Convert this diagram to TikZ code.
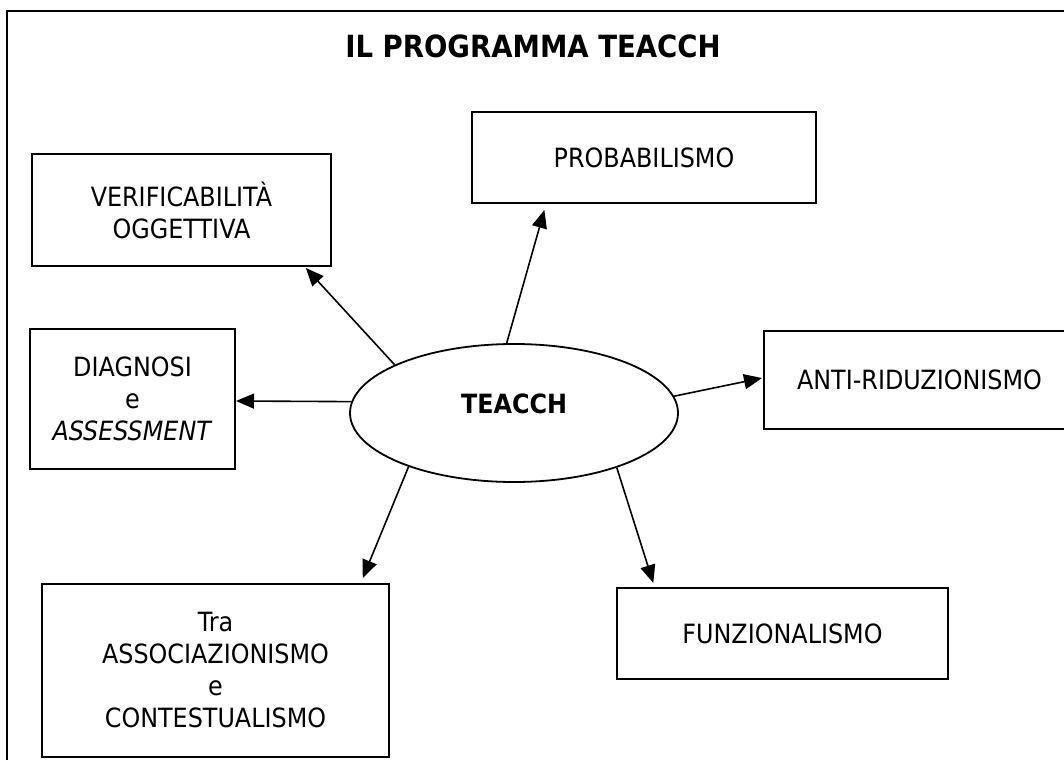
\documentclass[tikz,border=0pt]{standalone}
\usepackage{fontspec}
\setmainfont[FakeStretch=0.9]{DejaVu Sans}
\usetikzlibrary{arrows.meta,calc,shapes.geometric}
\begin{document}
\begin{tikzpicture}[x=1pt,y=-1pt,
  box/.style={draw,line width=2pt,rectangle,inner sep=0pt,align=center,font=\fontsize{26.5}{32}\selectfont},
  hub/.style={draw,line width=1.8pt,ellipse,inner sep=0pt,font=\bfseries\fontsize{26.5}{32}\selectfont},
  link/.style={line width=1.6pt,-{Triangle[length=18pt,width=15pt]}},
  frameline/.style={line width=2.2pt}]
\useasboundingbox (0,0) rectangle (1064,760);
\draw[frameline] (7,760) -- (7,11) -- (1064,11);
\node[anchor=base,font=\bfseries\fontsize{30.6}{36}\selectfont] (title) at (533,57) {IL PROGRAMMA TEACCH};
\node[box,minimum width=299pt,minimum height=112pt] (verif) at (181.5,210) {VERIFICABILITÀ\\OGGETTIVA};
\node[box,minimum width=344pt,minimum height=91pt] (prob) at (644,157.5) {PROBABILISMO};
\node[box,minimum width=205pt,minimum height=140pt] (diag) at (132.5,399) {DIAGNOSI\\e\\\textit{ASSESSMENT}};
\node[box,minimum width=311pt,minimum height=98pt] (anti) at (919.5,380) {ANTI-RIDUZIONISMO};
\node[box,minimum width=347pt,minimum height=173pt] (tra) at (215.5,670.5) {Tra\\ASSOCIAZIONISMO\\e\\CONTESTUALISMO};
\node[box,minimum width=331pt,minimum height=91pt] (funz) at (782.5,633.5) {FUNZIONALISMO};
\node[hub,minimum width=328pt,minimum height=138pt,text depth=18pt] (T) at (514,413) {TEACCH};
\draw[link] (T.158) -- ($(verif.south west)!0.913!(verif.south east)+(0,1)$);
\draw[link] (T.96) -- ($(prob.south west)!0.212!(prob.south east)+(0,6)$);
\draw[link] (T.176) -- ($(diag.east)+(0,2)$);
\draw[link] (T.6) -- ($(anti.west)+(-1,-2)$);
\draw[link] (T.207) -- ($(tra.north west)!0.922!(tra.north east)+(0,-5)$);
\draw[link] (T.332) -- ($(funz.north west)!0.112!(funz.north east)+(0,-4)$);
\end{tikzpicture}
\end{document}
